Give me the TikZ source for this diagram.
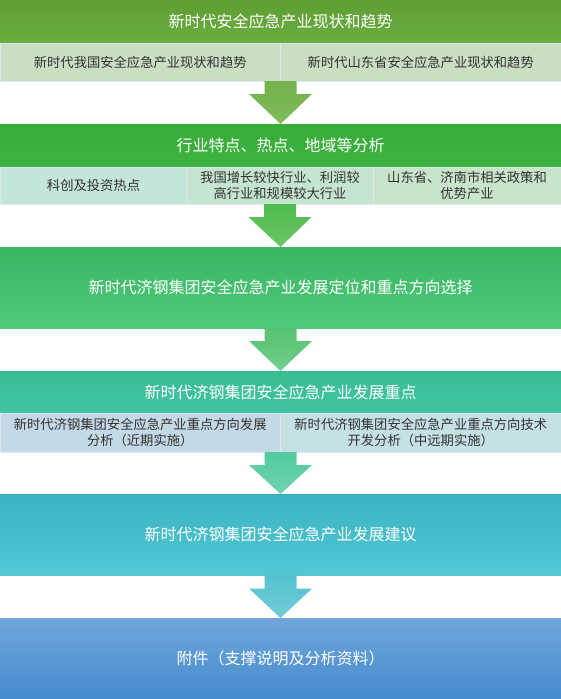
\documentclass[tikz,border=0pt]{standalone}
\usepackage{fontspec}
\setmainfont{Noto Sans CJK SC}
\usepackage{tikz}
\usetikzlibrary{calc}

\definecolor{textgrey}{HTML}{333333}
\definecolor{cellline}{HTML}{DCE8EE}
\tikzset{
  band/.style={inner sep=0pt, outer sep=0pt, minimum width=561pt, text=white,
    font=\fontsize{16}{19}\selectfont, align=center},
  cell/.style={inner sep=0pt, outer sep=0pt, draw=cellline, line width=0.7pt,
    text=textgrey, font=\fontsize{13.3}{16}\selectfont, align=center},
  flow/.style 2 args={top color=#1, bottom color=#2, draw=none}
}
% block arrow from one row down to the next band
\newcommand{\flowarrow}[4]{%
  \path[flow={#3}{#4}] ($(#1)+(-16,0)$) -- ($(#1)+(-16,13)$) -- ($(#1)+(-31.5,13)$)
    -- (#2) -- ($(#1)+(31.5,13)$) -- ($(#1)+(16,13)$) -- ($(#1)+(16,0)$) -- cycle;}

\begin{document}
\begin{tikzpicture}[x=1pt,y=-1pt]
            \useasboundingbox (0,0) rectangle (561,699);

            % First band: present situation
            \node[band, minimum height=43pt, top color={rgb,255:red,94;green,158;blue,50}, bottom color={rgb,255:red,106;green,174;blue,64}] (h1) at (280.5,21.5) {新时代安全应急产业现状和趋势};
            \node[cell, minimum width=280.5pt, minimum height=38pt, fill={rgb,255:red,200;green,223;blue,194}] (s1a) at (140.25,62) {新时代我国安全应急产业现状和趋势};
            \node[cell, minimum width=280.5pt, minimum height=38pt, fill={rgb,255:red,200;green,223;blue,194}] (s1b) at (420.75,62) {新时代山东省安全应急产业现状和趋势};

            % Second band: analysis
            \node[band, minimum height=43pt, top color={rgb,255:red,55;green,172;blue,56}, bottom color={rgb,255:red,62;green,180;blue,64}] (h2) at (280.5,145.5) {行业特点、热点、地域等分析};
            \node[cell, minimum width=187pt, minimum height=37pt, fill={rgb,255:red,196;green,230;blue,217}] (s2a) at (93.5,185.5) {科创及投资热点};
            \node[cell, minimum width=186pt, minimum height=37pt, fill={rgb,255:red,198;green,229;blue,209}] (s2b) at (280,185.5) {我国增长较快行业、利润较\\高行业和规模较大行业};
            \node[cell, minimum width=188pt, minimum height=37pt, fill={rgb,255:red,200;green,228;blue,201}] (s2c) at (467,185.5) {山东省、济南市相关政策和\\优势产业};

            % Third band: positioning
            \node[band, minimum height=81pt, top color={rgb,255:red,56;green,183;blue,98}, bottom color={rgb,255:red,80;green,201;blue,124}] (b3) at (280.5,287.5) {新时代济钢集团安全应急产业发展定位和重点方向选择};

            % Fourth band: key points
            \node[band, minimum height=42pt, top color={rgb,255:red,56;green,188;blue,148}, bottom color={rgb,255:red,66;green,196;blue,164}] (h4) at (280.5,392) {新时代济钢集团安全应急产业发展重点};
            \node[cell, minimum width=280.5pt, minimum height=39pt, fill={rgb,255:red,195;green,217;blue,229}] (s4a) at (140.25,432.5) {新时代济钢集团安全应急产业重点方向发展\\分析（近期实施）};
            \node[cell, minimum width=280.5pt, minimum height=39pt, fill={rgb,255:red,197;green,225;blue,230}] (s4b) at (420.75,432.5) {新时代济钢集团安全应急产业重点方向技术\\开发分析（中远期实施）};

            % Fifth band: suggestions
            \node[band, minimum height=81.5pt, top color={rgb,255:red,58;green,179;blue,193}, bottom color={rgb,255:red,82;green,200;blue,213}] (b5) at (280.5,534.75) {新时代济钢集团安全应急产业发展建议};

            % Last band: appendix
            \node[band, minimum height=81pt, top color={rgb,255:red,112;green,166;blue,220}, bottom color={rgb,255:red,68;green,139;blue,204}] (b6) at (280.5,658.5) {附件（支撑说明及分析资料）};

            % Arrows between the bands
            \flowarrow{s1a.south east}{h2.north}{{rgb,255:red,114;green,178;blue,76}}{{rgb,255:red,130;green,188;blue,92}}
            \flowarrow{s2b.south}{b3.north}{{rgb,255:red,80;green,188;blue,76}}{{rgb,255:red,106;green,198;blue,102}}
            \flowarrow{b3.south}{h4.north}{{rgb,255:red,86;green,194;blue,112}}{{rgb,255:red,114;green,206;blue,140}}
            \flowarrow{s4a.south east}{b5.north}{{rgb,255:red,84;green,202;blue,158}}{{rgb,255:red,110;green,212;blue,176}}
            \flowarrow{b5.south}{b6.north}{{rgb,255:red,86;green,194;blue,208}}{{rgb,255:red,112;green,204;blue,216}}
        \end{tikzpicture}
\end{document}
